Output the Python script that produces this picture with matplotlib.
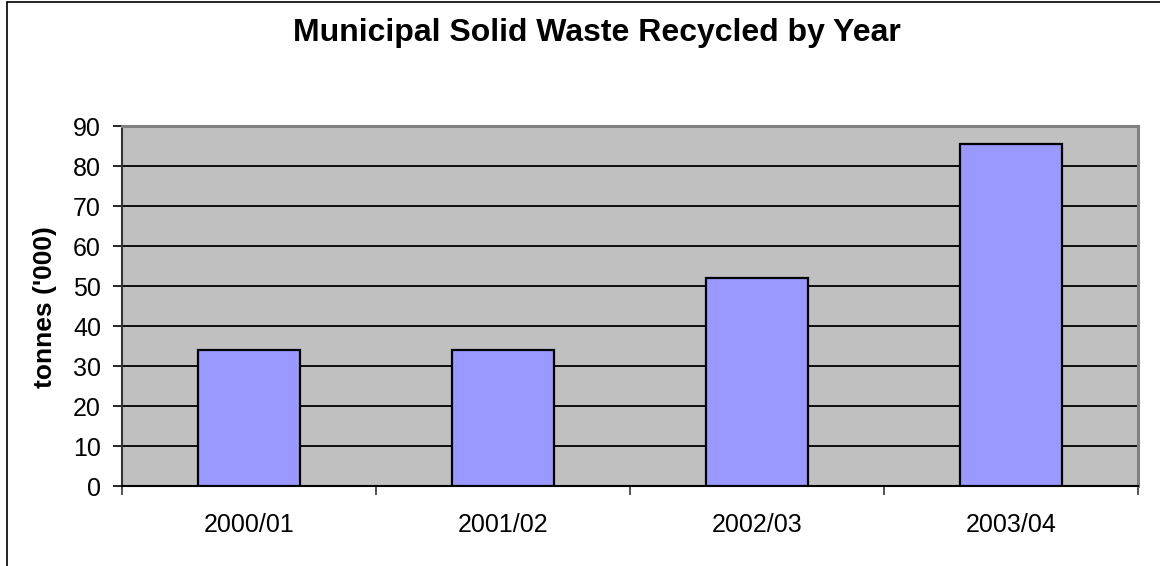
import matplotlib
matplotlib.use("Agg")
import matplotlib.pyplot as plt
from matplotlib.patches import Rectangle
import numpy as np

categories = ["2000/01", "2001/02", "2002/03", "2003/04"]
values = [34, 34, 52, 85.5]
yticks = [0, 10, 20, 30, 40, 50, 60, 70, 80, 90]

plt.rcParams['font.family'] = ['Liberation Sans', 'DejaVu Sans']

W, H = 1160, 566
fig = plt.figure(figsize=(W / 100, H / 100), dpi=100)
px = 72 / 100  # points per pixel

ax = fig.add_axes([122 / W, 1 - 486 / H, (1138 - 122) / W, (486 - 126) / H])
ax.set_facecolor('#C0C0C0')

x = np.arange(len(categories))
ax.set_axisbelow(True)
ax.yaxis.grid(True, color='black', linewidth=1.3)
ax.bar(x, values, width=0.4, color='#9999FF', edgecolor='black', linewidth=1.6, zorder=3)

ax.set_xlim(-0.5, len(categories) - 0.5)
ax.set_ylim(0, 90)
ax.set_yticks(yticks)
ax.set_yticklabels([str(v) for v in yticks], fontsize=18)
ax.tick_params(axis='y', direction='out', length=9 * px, width=1.2, pad=12 * px, colors='black')

ax.set_xticks(x)
ax.set_xticklabels(categories, fontsize=18)
ax.set_xticks(np.arange(-0.5, len(categories), 1.0), minor=True)
ax.tick_params(axis='x', which='major', length=0, pad=27 * px)
ax.tick_params(axis='x', which='minor', direction='out', length=9 * px, width=1.2, color='#333333')

for s in ['top', 'right']:
    ax.spines[s].set_color('#808080')
    ax.spines[s].set_linewidth(2.2)
ax.spines['left'].set_color('#333333')
ax.spines['left'].set_linewidth(1.5)
ax.spines['bottom'].set_color('black')
ax.spines['bottom'].set_linewidth(1.5)

fig.text(45 / W, 1 - 307 / H, "tonnes ('000)", rotation=90, ha='center', va='center',
         fontsize=19, fontweight='bold')

fig.text(597 / W, 1 - 33 / H, "Municipal Solid Waste Recycled by Year",
         ha='center', va='center', fontsize=23, fontweight='bold')

# outer chart frame (clipped at right/bottom)
fig.patches.append(Rectangle((7 / W, -0.1), 1.5, 1.1 - 1.5 / H, transform=fig.transFigure,
                             fill=False, edgecolor='black', linewidth=1.2))

fig.savefig("out.png", dpi=100)
